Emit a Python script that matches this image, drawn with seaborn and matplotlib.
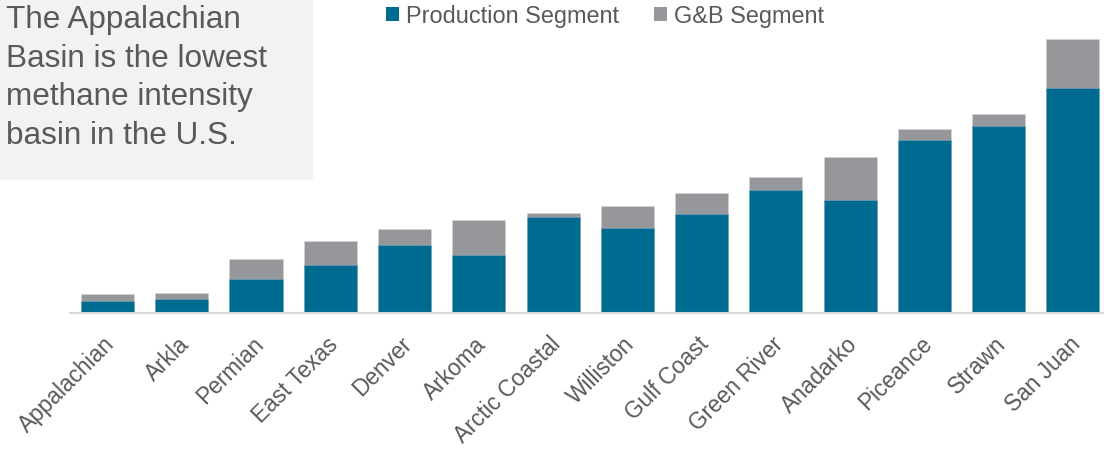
import matplotlib
matplotlib.use("Agg")
import matplotlib.pyplot as plt
import matplotlib.transforms as mtransforms
import seaborn as sns
import pandas as pd
from matplotlib.patches import Patch

basins = ["Appalachian", "Arkla", "Permian", "East Texas", "Denver", "Arkoma",
          "Arctic Coastal", "Williston", "Gulf Coast", "Green River", "Anadarko",
          "Piceance", "Strawn", "San Juan"]
production = [12.3, 14.3, 34.3, 47.7, 68.0, 58.3, 95.7, 85.0, 99.3, 123.3, 113.3, 173.3, 187.3, 225.0]
gb = [6.7, 5.7, 19.4, 24.3, 15.7, 34.4, 4.6, 21.7, 20.4, 12.4, 42.7, 11.0, 12.0, 49.0]

df = pd.DataFrame({"basin": basins, "production": production, "gb": gb})
df["total"] = df["production"] + df["gb"]

BLUE = "#006b91"
GRAY = "#96979b"
TXT = "#595959"

sns.set_theme(style="white")
plt.rcParams["font.family"] = ["Liberation Sans", "DejaVu Sans"]

W, H = 1104, 452
fig = plt.figure(figsize=(W / 100, H / 100), dpi=100)
ax_left, ax_right, ax_top, ax_bot = 70, 1104, 34, 314
ax = fig.add_axes([ax_left / W, (H - ax_bot) / H, (ax_right - ax_left) / W, (ax_bot - ax_top) / H])

sns.barplot(data=df, x="basin", y="total", color=GRAY, width=0.714, saturation=1,
            edgecolor="#d0d0d0", linewidth=0.6, ax=ax)
sns.barplot(data=df, x="basin", y="production", color=BLUE, width=0.714, saturation=1,
            edgecolor="#7fa9bf", linewidth=0.4, ax=ax)

ax.set_ylim(0, 280)
ax.set_xlim(-0.505, 13.42)
ax.set_xlabel("")
ax.set_ylabel("")
ax.set_yticks([])
for s in ["top", "right", "left"]:
    ax.spines[s].set_visible(False)
ax.spines["bottom"].set_color("#d9d9d9")
ax.spines["bottom"].set_linewidth(1.5)
ax.tick_params(axis="x", length=0, pad=15)
ax.set_xticks(range(len(basins)))
ax.set_xticklabels(basins, rotation=45, ha="right", va="center", rotation_mode="anchor",
                   fontsize=16.3, color=TXT)
offset = mtransforms.ScaledTranslation(0.04, -0.06, fig.dpi_scale_trans)
for lab in ax.get_xticklabels():
    lab.set_transform(lab.get_transform() + offset)

# Text box
fig.patches.append(plt.Rectangle((0, 1 - 181 / H), 313 / W, 181 / H, transform=fig.transFigure,
                                 facecolor="#f2f2f2", edgecolor="none", zorder=0))
fig.text(6 / W, 1 - 5 / H, "The Appalachian\nBasin is the lowest\nmethane intensity\nbasin in the U.S.",
         ha="left", va="top", fontsize=22.7, color=TXT, linespacing=1.37)

handles = [Patch(facecolor=BLUE, edgecolor="none", label="Production Segment"),
           Patch(facecolor=GRAY, edgecolor="none", label="G&B Segment")]
fig.legend(handles=handles, loc="center left", bbox_to_anchor=(386 / W, 1 - 17 / H),
           ncol=2, frameon=False, fontsize=16.9, labelcolor=TXT,
           handlelength=0.55, handleheight=0.55, handletextpad=0.3, columnspacing=1.5,
           borderaxespad=0, borderpad=0)

fig.savefig("out.png", dpi=100)
